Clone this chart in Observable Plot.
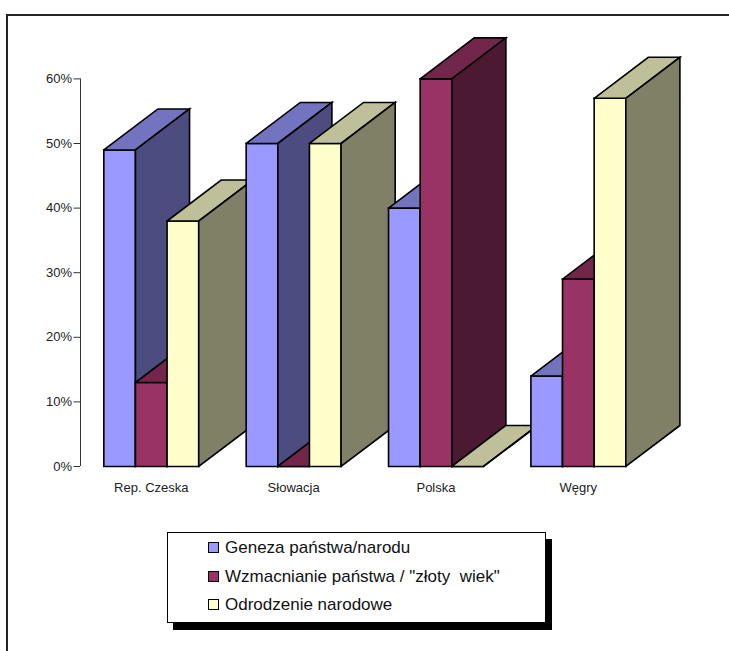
<!DOCTYPE html>
<html>
<head>
<meta charset="utf-8">
<script src="https://cdn.jsdelivr.net/npm/d3@7"></script>
<script src="https://cdn.jsdelivr.net/npm/@observablehq/plot@0.6"></script>
<style>
  html, body { margin: 0; padding: 0; background: #fff; }
  body { width: 729px; height: 651px; position: relative; overflow: hidden;
         font-family: "Liberation Sans", Arial, sans-serif; }
  #frame { position: absolute; left: 6px; top: 14px; width: 740px; height: 660px;
           border-top: 2px solid #222; border-left: 2px solid #222; }
  #chart { position: absolute; left: 0; top: 0; }
  #legend { position: absolute; left: 167px; top: 532px; width: 377px; height: 89px;
            border: 1px solid #000; background: #fff; box-shadow: 6px 7px 0 #000; }
  .item { position: absolute; left: 40px; height: 20px; line-height: 20px;
          font-size: 17px; color: #111; white-space: pre; }
  .sw { display: inline-block; width: 9px; height: 9px; border: 1px solid #000;
        margin-right: 6px; vertical-align: 0px; }
</style>
</head>
<body>
<div id="frame"></div>
<div id="chart"></div>
<div id="legend"></div>
<script>
// Survey shares by country, one array per series
const countries = ["Rep. Czeska", "Słowacja", "Polska", "Węgry"];
const seriesNames = ["Geneza państwa/narodu", "Wzmacnianie państwa / \"złoty  wiek\"", "Odrodzenie narodowe"];
const geneza = [0.49, 0.50, 0.40, 0.14];
const wzmacnianie = [0.13, 0.00, 0.60, 0.29];
const odrodzenie = [0.38, 0.50, 0.00, 0.57];
const yTicks = [0, 0.1, 0.2, 0.3, 0.4, 0.5, 0.6];

// front / top / side shades for each series
const palette = [
  {front: "#9999FF", top: "#7373BF", side: "#4C4C80"},
  {front: "#993366", top: "#73264C", side: "#4C1933"},
  {front: "#FFFFCC", top: "#BFBF99", side: "#808066"}
];

const series = [geneza, wzmacnianie, odrodzenie];

// column geometry in bar-width units
const groupStep = 4.5;     // distance between country clusters
const barW = 1;            // width of one column
const depthX = 1.71;       // oblique depth, horizontal
const depthY = 0.0635;     // oblique depth, vertical (in value units)
const axisGap = 0.737;     // space between axis and first column

// Build polygons for every column, in painting order (left to right)
const faces = [];
countries.forEach((c, i) => {
  series.forEach((vals, s) => {
    const v = vals[i];
    const xl = i * groupStep + s * barW, xr = xl + barW;
    const col = palette[s];
    const polys = [
      ["front", col.front, [[xl, 0], [xr, 0], [xr, v], [xl, v], [xl, 0]]],
      ["top", col.top, [[xl, v], [xr, v], [xr + depthX, v + depthY], [xl + depthX, v + depthY], [xl, v]]],
      ["side", col.side, [[xr, 0], [xr + depthX, depthY], [xr + depthX, v + depthY], [xr, v], [xr, 0]]]
    ];
    polys.forEach(([face, fill, pts]) => {
      const id = `${i}-${s}-${face}`;
      pts.forEach(([x, y]) => faces.push({id, fill, x, y}));
    });
  });
});

const labels = countries.map((c, i) => ({name: c, x: i * groupStep + 1.5 * barW}));
const xMax = (countries.length - 1) * groupStep + 3 * barW;

const chart = Plot.plot({
  width: 729,
  height: 651,
  marginLeft: 80,
  marginRight: 103.7,
  marginTop: 78.4,
  marginBottom: 185,
  style: {fontFamily: "'Liberation Sans', Arial, sans-serif", background: "transparent"},
  x: {domain: [-axisGap, xMax], axis: null},
  y: {domain: [0, 0.6], axis: null},
  color: {type: "identity"},
  marks: [
    Plot.ruleX([-axisGap], {y1: 0, y2: 0.6, stroke: "#333", strokeWidth: 1}),
    Plot.axisY(yTicks, {
      label: null,
      tickSize: 6.5, tickPadding: 2, fontSize: 13, stroke: "#333", color: "#222",
      tickFormat: d => `${Math.round(d * 100)}%`
    }),
    Plot.line(faces, {
      x: "x", y: "y", z: "id", fill: "fill",
      stroke: "#000", strokeWidth: 1.6,
      strokeLinejoin: "miter", strokeLinecap: "square", strokeMiterlimit: 4
    }),
    Plot.text(labels, {x: "x", y: 0, text: "name", dy: 21, fontSize: 13, fill: "#222"})
  ]
});
document.getElementById("chart").appendChild(chart);

// Legend
const legend = document.getElementById("legend");
const rowCenters = [14.7, 44.2, 72];
seriesNames.forEach((name, s) => {
  const row = document.createElement("div");
  row.className = "item";
  row.style.top = (rowCenters[s] - 10) + "px";
  const sw = document.createElement("span");
  sw.className = "sw";
  sw.style.background = palette[s].front;
  row.appendChild(sw);
  row.appendChild(document.createTextNode(name));
  legend.appendChild(row);
});
</script>
</body>
</html>
